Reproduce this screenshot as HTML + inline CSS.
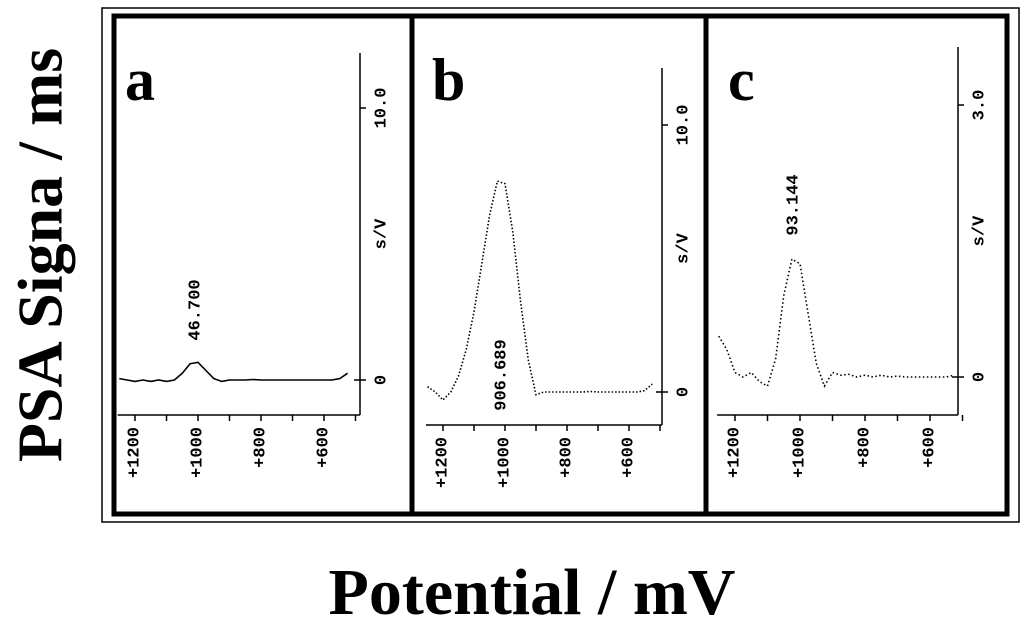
<!DOCTYPE html>
<html><head><meta charset="utf-8"><style>
html,body{margin:0;padding:0;background:#fff;}
svg{display:block;}
.t{font-family:"Liberation Mono",monospace;font-size:17px;font-weight:bold;fill:#000;}
</style></head><body>
<svg id="chart" width="1024" height="624" viewBox="0 0 1024 624" xmlns="http://www.w3.org/2000/svg">
<rect x="102" y="8" width="917" height="514" fill="none" stroke="#000" stroke-width="1.5"/>
<rect x="114" y="16" width="893" height="498" fill="none" stroke="#000" stroke-width="5"/>
<line x1="412" y1="16" x2="412" y2="514" stroke="#000" stroke-width="5"/>
<line x1="706" y1="16" x2="706" y2="514" stroke="#000" stroke-width="5"/>
<text x="40" y="255" transform="rotate(-90 40 255)" text-anchor="middle" dominant-baseline="central" font-family="Liberation Serif,serif" font-weight="bold" font-size="64">PSA Signa / ms</text>
<text x="532" y="614" text-anchor="middle" font-family="Liberation Serif,serif" font-weight="bold" font-size="66">Potential / mV</text>
<g id="panels"></g>
</svg>
<script>
const potentials = [1250,1225,1200,1175,1150,1125,1100,1075,1050,1025,1000,975,950,925,900,875,850,825,800,775,750,725,700,675,650,625,600,575,550,525];
const seriesA = [0.05,0.0,-0.05,0.0,-0.05,0.0,-0.05,0.0,0.25,0.6,0.65,0.35,0.05,-0.05,0,0,0,0.02,0,0,0,0,0,0,0,0,0,0,0.05,0.25];
const seriesB = [0.2,0.0,-0.3,0.0,0.6,1.6,3.0,4.8,6.6,7.9,7.8,6.0,3.4,1.2,-0.1,0,0,0,0,0,0,0.02,0,0,0,0,0,0,0.05,0.3];
const seriesC = [0.45,0.3,0.05,0.0,0.05,-0.05,-0.1,0.2,0.9,1.3,1.25,0.7,0.15,-0.1,0.05,0.02,0.03,0,0.02,0,0.02,0,0.01,0,0,0,0,0,0,0.02];
const xTicks = [1200,1000,800,600];
const xTickLabels = ["+1200","+1000","+800","+600"];
const peakLabels = ["46.700","906.689","93.144"];
const yTopLabels = ["10.0","10.0","3.0"];
const yTopValues = [10,10,3];
const panelLetters = ["a","b","c"];

const NS="http://www.w3.org/2000/svg";
const root=document.getElementById('panels');
function mk(tag,attrs,parent){const e=document.createElementNS(NS,tag);for(const k in attrs)e.setAttribute(k,attrs[k]);(parent||root).appendChild(e);return e;}
const cfg=[
 {yAx:360,yTop:53,xAx:415,x1200:135,x1000:198,base:380,topY:108,data:seriesA,dash:null,letterX:125,peakX:196,peakY:310},
 {yAx:662,yTop:68,xAx:425,x1200:443,x1000:505,base:392,topY:125,data:seriesB,dash:"1.5 2",letterX:432,peakX:502,peakY:375},
 {yAx:958,yTop:47,xAx:415,x1200:735,x1000:800,base:377,topY:105,data:seriesC,dash:"1.5 2.5",letterX:728,peakX:794,peakY:205}
];
cfg.forEach((c,i)=>{
 const g=mk('g',{});
 
 
 const ppm=(c.x1000-c.x1200)/200;
 const xs=v=>c.x1200+(1200-v)*ppm;
 const ys=v=>c.base-v*(c.base-c.topY)/yTopValues[i];
 const xl=xs(1255);
 const xa=mk('line',{x1:xl,y1:c.xAx,x2:c.yAx,y2:c.xAx,stroke:'#000','stroke-width':1.5},g);
 
 
 const ya=mk('line',{x1:c.yAx,y1:c.yTop,x2:c.yAx,y2:c.xAx,stroke:'#000','stroke-width':1.5},g);
 
 
 for(let v=1200;v>=500;v-=100){mk('line',{x1:xs(v),y1:c.xAx,x2:xs(v),y2:c.xAx+6,stroke:'#000','stroke-width':1.5},g);}
 mk('line',{x1:c.yAx,y1:c.topY,x2:c.yAx+6,y2:c.topY,stroke:'#000','stroke-width':1.5},g);
 mk('line',{x1:c.yAx-6,y1:c.base,x2:c.yAx+6,y2:c.base,stroke:'#000','stroke-width':1.5},g);
 xTicks.forEach((v,k)=>{
  const ty=c.xAx+12;
  const t=mk('text',{class:'t',x:xs(v),y:ty,transform:`rotate(-90 ${xs(v)} ${ty})`,'text-anchor':'end','dominant-baseline':'central'},g);
  t.textContent=xTickLabels[k];
  
  
 });
 const yl=c.yAx+22;
 [[yTopLabels[i],c.topY],["s/V",(c.topY+c.base)/2-10],["0",c.base]].forEach(([s,y])=>{
  const t=mk('text',{class:'t',x:yl,y:y,transform:`rotate(-90 ${yl} ${y})`,'text-anchor':'middle','dominant-baseline':'central'},g);
  t.textContent=s;
  
  
 });
 const pts=potentials.map((p,k)=>xs(p).toFixed(1)+','+ys(c.data[k]).toFixed(1)).join(' ');
 const pl=mk('polyline',{points:pts,fill:'none',stroke:'#000','stroke-width':1.6},g);
 if(c.dash)pl.setAttribute('stroke-dasharray',c.dash);
 
 
 const pt=mk('text',{class:'t',x:c.peakX,y:c.peakY,transform:`rotate(-90 ${c.peakX} ${c.peakY})`,'text-anchor':'middle','dominant-baseline':'central'},g);
 pt.textContent=peakLabels[i];
 
 
 const L=mk('text',{x:c.letterX,y:100,'font-family':'Liberation Serif,serif','font-weight':'bold','font-size':60},g);
 L.textContent=panelLetters[i];
 
 
});
</script>
</body></html>
